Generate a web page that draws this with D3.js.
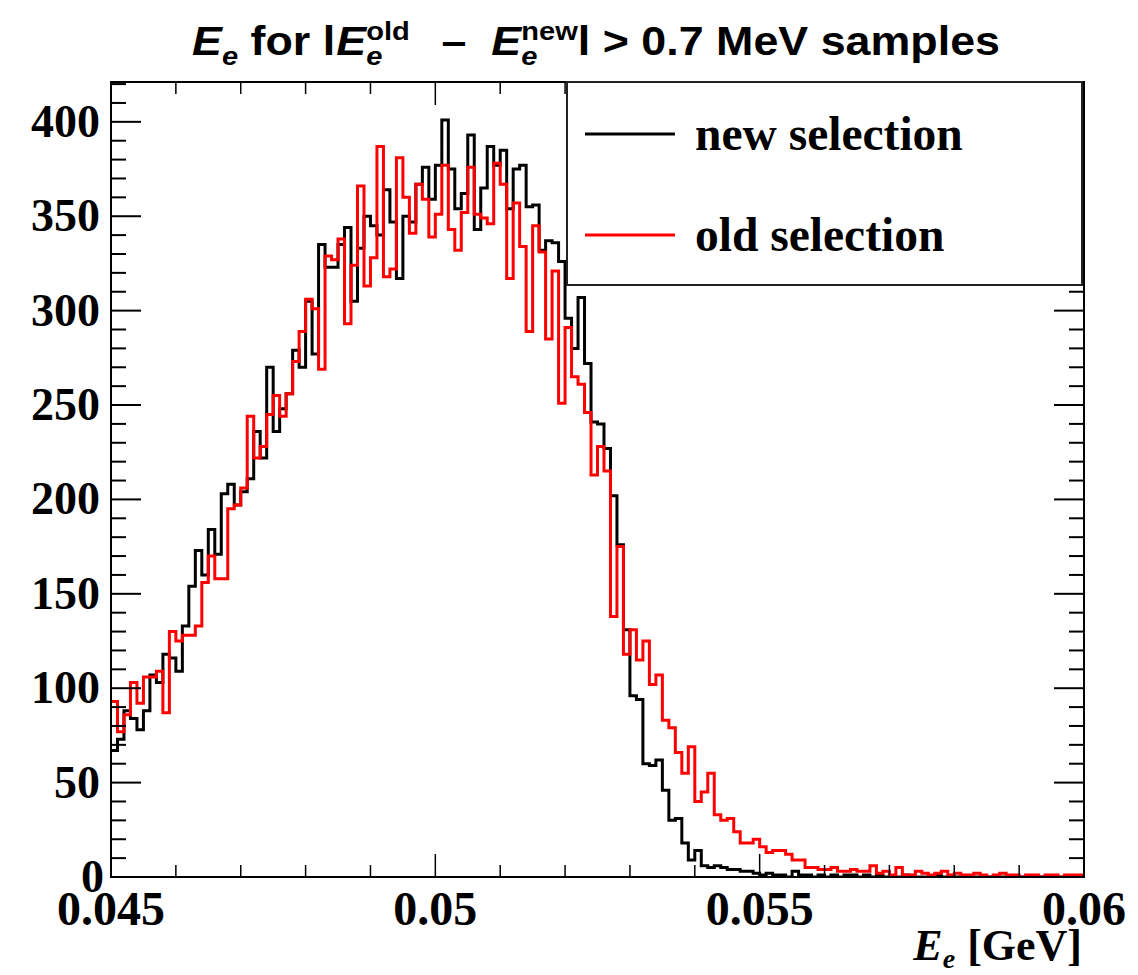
<!DOCTYPE html>
<html>
<head>
<meta charset="utf-8">
<script src="https://cdn.jsdelivr.net/npm/d3@7/dist/d3.min.js"></script>
<style>
  body { margin: 0; background: #fff; }
  svg { display: block; }
</style>
</head>
<body>
<svg id="chart" width="1138" height="975"></svg>
<script>
// histogram range (GeV) and bin contents, 150 bins
const xRange = [0.045, 0.06];
const yMax = 421.1;

const newSelection = [
  67, 73, 88, 84, 78, 88, 107, 103, 118, 116,
  109, 133, 154, 173, 160, 184, 171, 203, 208, 197,
  204, 211, 236, 222, 270, 236, 248, 256, 279, 270,
  305, 277, 335, 323, 323, 335, 344, 305, 333, 350,
  345, 340, 364, 347, 317, 350, 347, 367, 376, 359,
  377, 401, 375, 354, 362, 393, 343, 365, 387, 377,
  385, 354, 375, 377, 355, 356, 332, 337, 336, 326,
  296, 280, 307, 272, 241, 240, 227, 202, 176, 131,
  96, 94, 60, 59, 62, 46, 30, 31, 18, 9,
  14, 6, 5, 6, 5, 4, 4, 3, 3, 2,
  1, 2, 1, 1, 0, 3, 1, 1, 0, 1,
  0, 1, 0, 1, 1, 0, 1, 0, 1, 0,
  0, 0, 1, 0, 0, 0, 0, 1, 0, 0,
  0, 0, 0, 0, 0, 0, 0, 0, 0, 0,
  0, 0, 0, 0, 0, 0, 0, 0, 0, 0
];

const oldSelection = [
  93, 77, 86, 103, 92, 106, 106, 109, 87, 130,
  125, 128, 128, 133, 156, 170, 158, 158, 195, 197,
  206, 244, 222, 228, 245, 255, 244, 256, 273, 289,
  306, 301, 269, 329, 327, 338, 293, 324, 366, 313,
  328, 387, 318, 322, 381, 360, 341, 367, 359, 339,
  351, 377, 343, 332, 352, 376, 351, 349, 346, 378,
  367, 317, 357, 334, 289, 345, 331, 285, 321, 251,
  291, 265, 261, 246, 213, 228, 215, 138, 175, 118,
  131, 115, 125, 102, 107, 83, 79, 66, 55, 69,
  40, 45, 55, 33, 30, 31, 24, 18, 18, 20,
  16, 13, 14, 14, 12, 9, 9, 5, 5, 4,
  4, 5, 3, 3, 4, 3, 3, 6, 2, 3,
  1, 5, 1, 1, 3, 2, 1, 2, 3, 1,
  2, 1, 1, 2, 1, 0, 1, 2, 1, 1,
  0, 1, 1, 0, 1, 1, 0, 1, 1, 1
];

const yTicks = [0, 50, 100, 150, 200, 250, 300, 350, 400];
const xTicks = [0.045, 0.05, 0.055, 0.06];
const xTickLabels = ["0.045", "0.05", "0.055", "0.06"];
const legendLabels = ["new selection", "old selection"];

const colors = { newSel: "#000000", oldSel: "#ff0000" };

const SERIF = "'Liberation Serif', 'Times New Roman', serif";
const SANS = "'Liberation Sans', Arial, Helvetica, sans-serif";

const frame = { left: 111, right: 1084, top: 82, bottom: 877 };

const svg = d3.select("#chart");

const x = d3.scaleLinear().domain(xRange).range([frame.left, frame.right]);
const y = d3.scaleLinear().domain([0, yMax]).range([frame.bottom, frame.top]);

const nBins = newSelection.length;
const binW = (xRange[1] - xRange[0]) / nBins;

svg.append("defs").append("clipPath").attr("id", "plotClip")
  .append("rect")
  .attr("x", frame.left).attr("y", frame.top)
  .attr("width", frame.right - frame.left).attr("height", frame.bottom - frame.top);

function histPoints(values) {
  const pts = values.map((v, i) => [xRange[0] + i * binW, v]);
  pts.push([xRange[1], values[values.length - 1]]);
  return pts;
}

const stepLine = d3.line()
  .x(d => x(d[0]))
  .y(d => y(d[1]))
  .curve(d3.curveStepAfter);

const plot = svg.append("g").attr("clip-path", "url(#plotClip)");

plot.append("path")
  .attr("d", stepLine(histPoints(newSelection)))
  .attr("fill", "none")
  .attr("stroke", colors.newSel)
  .attr("stroke-width", 3);

plot.append("path")
  .attr("d", stepLine(histPoints(oldSelection)))
  .attr("fill", "none")
  .attr("stroke", colors.oldSel)
  .attr("stroke-width", 3);

// axes, ROOT style: ticks pointing inward on all four sides
const yMinor = d3.range(0, yMax, 10);
const axisG = svg.append("g");

function yTickLines(xPos, dir) {
  axisG.selectAll(null).data(yMinor).enter().append("line")
    .attr("x1", xPos)
    .attr("x2", d => xPos + dir * (d % 50 === 0 ? 30 : 15))
    .attr("y1", d => y(d)).attr("y2", d => y(d))
    .attr("stroke", "#000").attr("stroke-width", 2);
}
yTickLines(frame.left, 1);
yTickLines(frame.right, -1);

const xMinor = d3.range(0, 16).map(i => xRange[0] + i * 0.001);
function xTickLines(yPos, dir) {
  axisG.selectAll(null).data(xMinor).enter().append("line")
    .attr("y1", yPos)
    .attr("y2", (d, i) => yPos + dir * (i % 5 === 0 ? 23 : 12))
    .attr("x1", d => x(d)).attr("x2", d => x(d))
    .attr("stroke", "#000").attr("stroke-width", 1.5);
}
xTickLines(frame.bottom, -1);
xTickLines(frame.top, 1);

axisG.append("rect")
  .attr("x", frame.left).attr("y", frame.top)
  .attr("width", frame.right - frame.left).attr("height", frame.bottom - frame.top)
  .attr("fill", "none").attr("stroke", "#000").attr("stroke-width", 2);

// tick labels
svg.append("g").selectAll("text").data(yTicks).enter().append("text")
  .attr("x", d => d === 0 ? 104 : 100)
  .attr("y", d => y(d) + 15)
  .attr("text-anchor", "end")
  .style("font-family", SERIF).style("font-weight", "bold").style("font-size", "46px")
  .text(d => d);

svg.append("g").selectAll("text").data(xTicks).enter().append("text")
  .attr("x", d => x(d))
  .attr("y", 925)
  .attr("text-anchor", "middle")
  .style("font-family", SERIF).style("font-weight", "bold").style("font-size", "48px")
  .text((d, i) => xTickLabels[i]);

// rich text helper: pieces placed one after another, measuring each
function richText(g, x0, y0, pieces, font, weight) {
  let cx = x0;
  pieces.forEach(p => {
    const t = g.append("text")
      .attr("x", cx).attr("y", y0 + (p.dy || 0))
      .style("font-family", font).style("font-weight", weight)
      .style("font-size", p.size + "px")
      .style("font-style", p.italic ? "italic" : "normal")
      .style("white-space", "pre")
      .text(p.t);
    const w = t.node().getComputedTextLength();
    if (!p.stay) cx += w + (p.gap || 0);
  });
  return cx - x0;
}

// title (ROOT uses a condensed helvetica, so squeeze it horizontally)
const titleG = svg.append("g");
const T = 40, S = 26;
const titleW = richText(titleG, 0, 0, [
  { t: "E", size: T, italic: true },
  { t: "e", size: S, italic: true, dy: 10 },
  { t: " for ", size: T },
  { t: "l", size: T, gap: 1 },
  { t: "E", size: T, italic: true },
  { t: "e", size: S, italic: true, dy: 10, stay: true },
  { t: "old", size: S, dy: -15, gap: 6 },
  { t: "  \u2013  ", size: T },
  { t: "E", size: T, italic: true },
  { t: "e", size: S, italic: true, dy: 10, stay: true },
  { t: "new", size: S, dy: -15 },
  { t: "l > 0.7 MeV samples", size: T }
], SANS, "bold");
const titleSx = 808 / titleW;
titleG.attr("transform", `translate(192,55) scale(${titleSx},1)`);

// x axis title
const xtG = svg.append("g");
const xtW = richText(xtG, 0, 0, [
  { t: "E", size: 44, italic: true },
  { t: "e", size: 28, italic: true, dy: 8, gap: 12 },
  { t: "[GeV]", size: 44 }
], SERIF, "bold");
xtG.attr("transform", `translate(${1082 - xtW},960)`);

// legend
const leg = svg.append("g");
leg.append("rect")
  .attr("x", 567).attr("y", 82).attr("width", 515).attr("height", 203)
  .attr("fill", "#fff").attr("stroke", "#222").attr("stroke-width", 2);

[colors.newSel, colors.oldSel].forEach((c, i) => {
  const ly = 134 + i * 101;
  leg.append("line")
    .attr("x1", 585).attr("x2", 675).attr("y1", ly).attr("y2", ly)
    .attr("stroke", c).attr("stroke-width", 3);
  leg.append("text")
    .attr("x", 695).attr("y", ly + 16)
    .style("font-family", SERIF).style("font-weight", "bold").style("font-size", "47.5px")
    .text(legendLabels[i]);
});
</script>
</body>
</html>
